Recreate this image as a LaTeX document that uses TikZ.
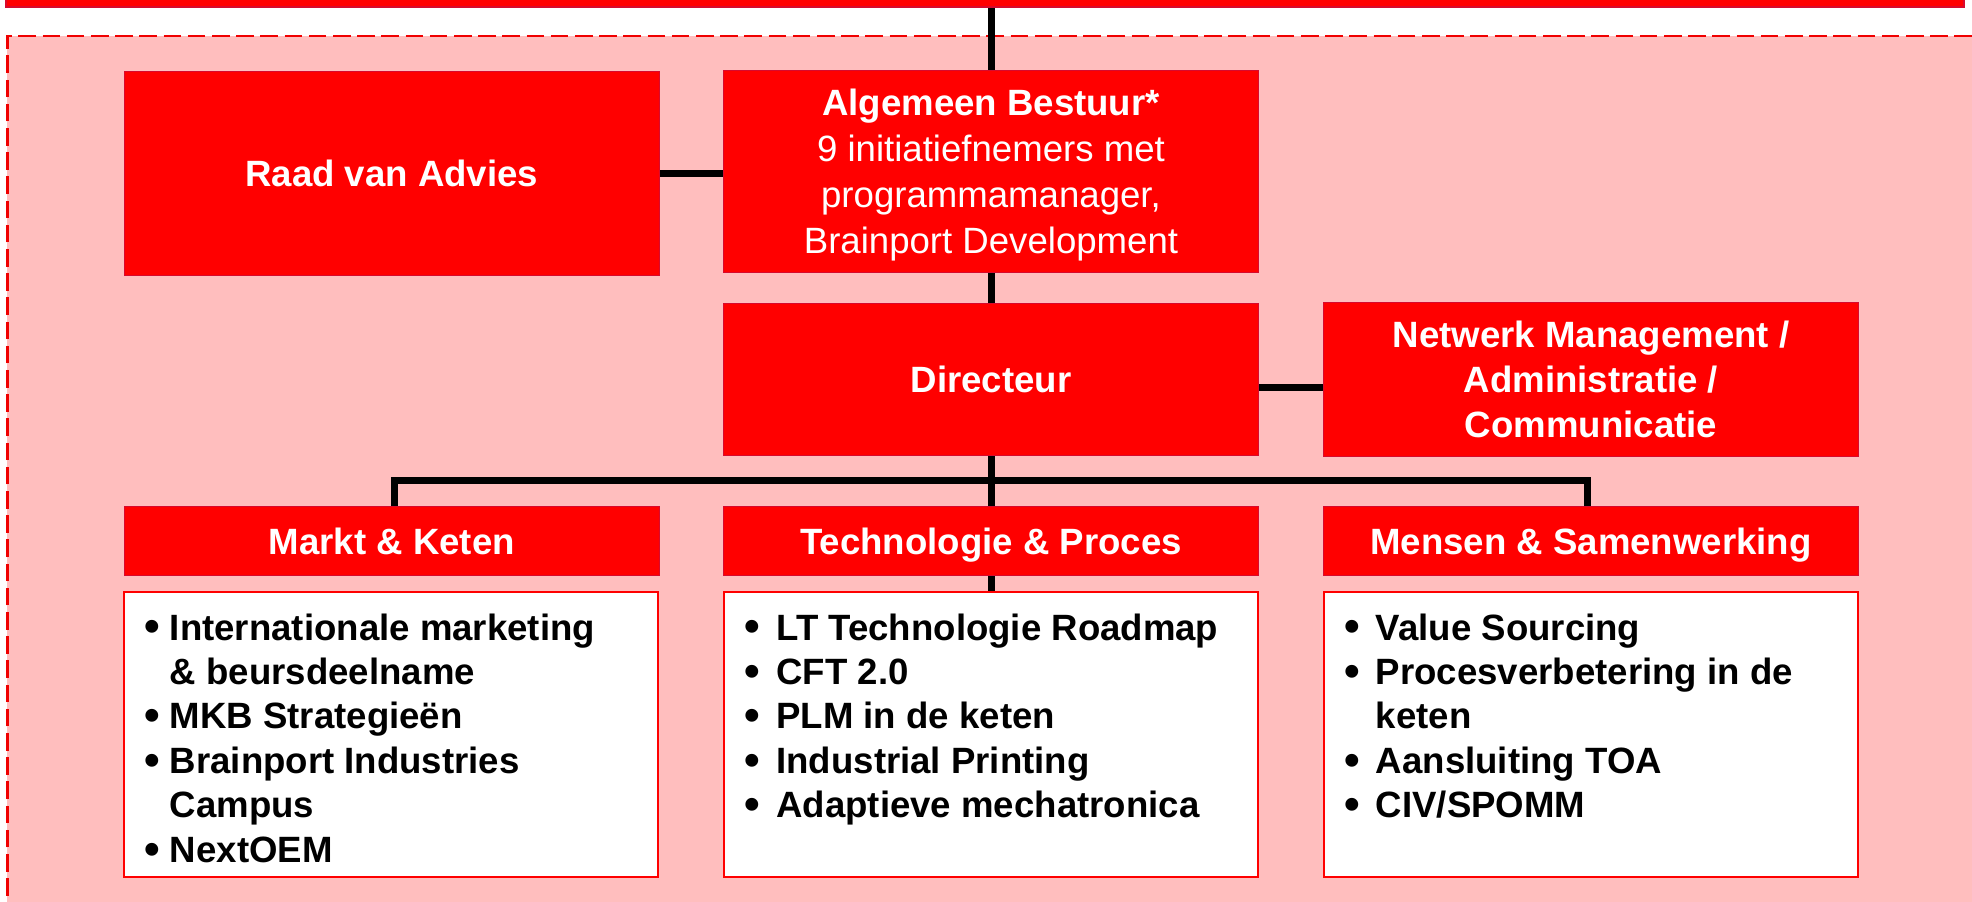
\documentclass[tikz,border=0pt]{standalone}
\usepackage{fontspec}
\usepackage{graphicx}
\setmainfont{Liberation Sans}
\usetikzlibrary{calc}
\definecolor{boxred}{RGB}{255,0,0}
\definecolor{edgered}{RGB}{215,10,45}
\definecolor{bgpink}{RGB}{255,190,190}
\definecolor{dashred}{RGB}{240,0,0}
\newcommand{\mybul}{\raisebox{-0.05em}{\scalebox{1.22}{•}}}
\pgfdeclarelayer{bglayer}
\pgfdeclarelayer{connlayer}
\pgfsetlayers{bglayer,connlayer,main}
\begin{document}
\begin{tikzpicture}[x=0.5pt,y=-0.5pt,
  redbox/.style={rectangle, fill=boxred, draw=edgered, line width=0.5pt, text=white,
    font=\fontsize{18.3pt}{22.2pt}\selectfont\bfseries, align=center, inner sep=0pt,
    minimum width=267.25pt},
  hdrbox/.style={redbox, minimum height=34.5pt, text height=13.1pt, text depth=0pt},
  whitebox/.style={rectangle, fill=white, draw=boxred, line width=1pt, inner sep=0pt,
    minimum width=267pt, minimum height=142.25pt},
  barbox/.style={rectangle, fill=boxred, draw=edgered, line width=0.6pt, inner sep=0pt,
    minimum width=979pt, minimum height=8.5pt},
  conn/.style={draw=black, line width=3.5pt},
  item/.style={anchor=base west, inner sep=0pt, text=black,
    font=\fontsize{18.3pt}{22.2pt}\selectfont\bfseries}
]
\useasboundingbox (0,0) rectangle (1972,901);
\clip (0,0) rectangle (1972,901);

% background area
\begin{pgfonlayer}{bglayer}
\fill[bgpink] (7.3,35.7) rectangle (1990,920);
\draw[dashred, line width=1.2pt, dash pattern=on 8.8pt off 3.3pt] (7.3,920) -- (7.3,35.7) -- (1990,35.7);
\end{pgfonlayer}

% boxes
\node[barbox] (top) at (985,-1.5) {};
\node[redbox, minimum height=101.65pt, text height=13.1pt, text depth=0pt] (raad) at (391.75,173.4) {Raad van Advies};
\node[redbox, minimum height=101pt, text depth=0pt,
  font=\fontsize{18.3pt}{23pt}\selectfont\bfseries] (alg) at (991,171.7)
  {Algemeen Bestuur*\\ \mdseries 9 initiatiefnemers met\\ \mdseries programmamanager,\\ \mdseries Brainport Development};
\node[redbox, minimum height=75.65pt, text height=13.1pt, text depth=0pt] (dir) at (991,379.4) {Directeur};
\node[redbox, minimum height=77pt, font=\fontsize{18.3pt}{22.4pt}\selectfont\bfseries] (net) at (1591,379.7) {Netwerk Management /\\ Administratie /\\ Communicatie};
\node[hdrbox] (markt) at (391.75,541.2) {Markt \& Keten};
\node[hdrbox] (tech) at (991,541.2) {Technologie \& Proces};
\node[hdrbox] (mensen) at (1591,541.2) {Mensen \& Samenwerking};
\node[whitebox] (markc) at (390.5,734.6) {};
\node[whitebox] (techc) at (991,734.6) {};
\node[whitebox] (mensc) at (1591,734.6) {};

% connectors
\begin{pgfonlayer}{connlayer}
\draw[conn] (top.south -| alg.north) -- (alg.north);
\draw[conn] (raad.east) -- (raad.east -| alg.west);
\draw[conn] (alg.south) -- (dir.north);
\draw[conn] ([yshift=-4pt]dir.east) -- ([yshift=-4pt]dir.east -| net.west);
\draw[conn] (dir.south) -- (tech.north);
\draw[conn] ([xshift=1.5pt]markt.north) |- ($(dir.south)!0.5!(tech.north)$) -| ([xshift=-1.75pt]mensen.north);
\draw[conn] (tech.south) -- (techc.north);
\end{pgfonlayer}

% content lines
\node[item] (mk1) at (144,640) {\makebox[12.75pt][l]{\mybul}Internationale marketing};
\node[item] (mk2) at (169.5,684.3) {\& beursdeelname};
\node[item] (mk3) at (144,728.3) {\makebox[12.75pt][l]{\mybul}MKB Strategieën};
\node[item] (mk4) at (144,773.3) {\makebox[12.75pt][l]{\mybul}Brainport Industries};
\node[item] (mk5) at (169.5,817.3) {Campus};
\node[item] (mk6) at (144,862.3) {\makebox[12.75pt][l]{\mybul}NextOEM};

\node[item] (tp1) at (744,640) {\makebox[16pt][l]{\mybul}LT Technologie Roadmap};
\node[item] (tp2) at (744,684.3) {\makebox[16pt][l]{\mybul}CFT 2.0};
\node[item] (tp3) at (744,728.3) {\makebox[16pt][l]{\mybul}PLM in de keten};
\node[item] (tp4) at (744,773.3) {\makebox[16pt][l]{\mybul}Industrial Printing};
\node[item] (tp5) at (744,817.3) {\makebox[16pt][l]{\mybul}Adaptieve mechatronica};

\node[item] (ms1) at (1344,640) {\makebox[15.75pt][l]{\mybul}Value Sourcing};
\node[item] (ms2) at (1344,684.3) {\makebox[15.75pt][l]{\mybul}Procesverbetering in de};
\node[item] (ms3) at (1375.5,728.3) {keten};
\node[item] (ms4) at (1344,773.3) {\makebox[15.75pt][l]{\mybul}Aansluiting TOA};
\node[item] (ms5) at (1344,817.3) {\makebox[15.75pt][l]{\mybul}CIV/SPOMM};
\end{tikzpicture}
\end{document}
